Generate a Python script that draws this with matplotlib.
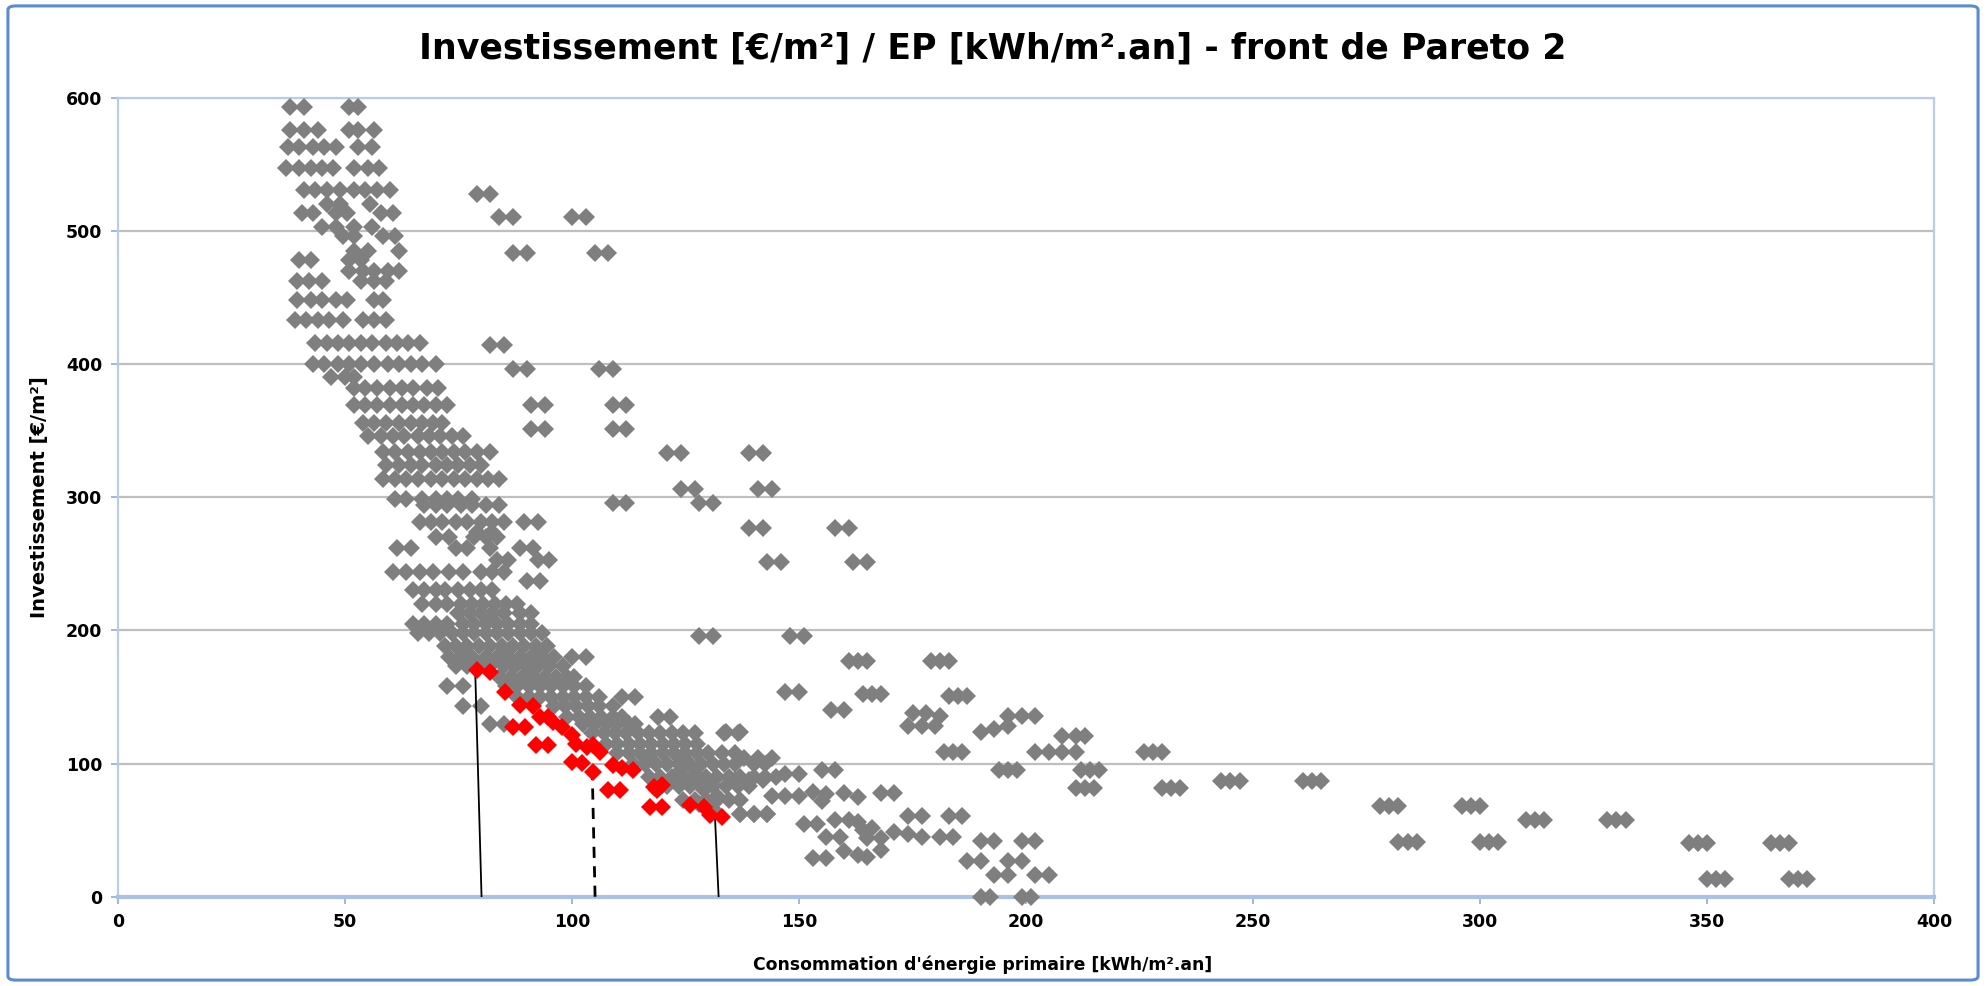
import matplotlib
matplotlib.use("Agg")
import matplotlib.pyplot as plt
from matplotlib.patches import FancyBboxPatch

# ---------------- data ----------------
# dense band of gray solutions, stored row by row: (investment, [consumptions])
gray_rows = [
    (593, [38, 41, 51, 53]),
    (576, [38, 41, 44, 51, 53, 56.5]),
    (563, [37.5, 40, 43, 45.5, 48, 53, 56]),
    (547, [37, 40, 42.5, 45, 47.5, 52, 55, 57.5]),
    (531, [41, 43.5, 46, 49, 52, 54.5, 57, 60]),
    (520, [46, 49, 55.5]),
    (513, [40.5, 43, 48, 50.5, 58, 60.5]),
    (503, [45, 48, 52, 56]),
    (496, [49.5, 52, 58.5, 61]),
    (485, [52, 55, 62]),
    (478, [40, 42.5, 51, 53.5]),
    (470, [51, 54, 56.5, 59.5, 62]),
    (462, [39.5, 42, 45, 53.5, 56.5, 59]),
    (448, [39.5, 42.5, 45, 48, 50.5, 56.5, 58.5]),
    (433, [39, 41.5, 44, 46.5, 49.5, 54, 56.5, 59]),
    (416, [43.5, 46, 48.5, 51, 53.5, 56, 59, 61.5, 64, 66.5]),
    (400, [43, 45.5, 48.5, 51, 53.5, 56.5, 59.5, 62, 64.5, 67, 70]),
    (390, [47, 50, 52]),
    (382, [52, 54.5, 57, 60, 62.5, 65, 68, 70.5]),
    (369, [52, 54.5, 57, 60, 62.5, 65, 67.5, 70, 72.5]),
    (356, [54, 56.5, 59, 62, 64.5, 67, 69.5, 71.5]),
    (346, [55, 58, 60.5, 63, 66, 68.5, 71, 73.5, 76]),
    (334, [58.5, 61, 64, 66.5, 69, 71.5, 74, 76.5, 79, 82]),
    (324, [59, 62, 64.5, 67, 70, 72.5, 75, 77.5, 80]),
    (314, [58.5, 61, 63.5, 66, 69, 71.5, 74, 76.5, 79, 81.5, 84]),
    (299, [61, 63.5, 67, 70, 72.5, 75, 78]),
    (294, [67.5, 70, 72.5, 75.5, 78, 81, 84]),
    (281, [66.5, 69, 71.5, 74.5, 77, 80, 82.5, 85, 89.5, 92.5]),
    (274, [79, 82.5]),
    (270, [70, 73, 78.5, 81, 83.5]),
    (262, [61.5, 64.5, 74.5, 77, 82, 88.5, 91.5]),
    (253, [83.5, 86, 92.5, 95]),
    (244, [60.5, 63.5, 66.5, 69.5, 73, 76, 80, 82.5, 85]),
    (237, [90, 93]),
    (230, [65, 67.5, 70, 72, 75, 77.5, 80, 82.5]),
    (220, [67, 70, 72.5, 75.5, 78, 80.5, 83, 85.5, 88]),
    (213, [75, 77.5, 80, 82.5, 85, 88.5, 91]),
    (205, [65, 67.5, 70, 72.5, 76, 78.5, 81, 83.5, 86, 88.5, 91]),
    (198, [66, 68.5, 71, 73.5, 76, 78.5, 81, 83.5, 86, 88.5, 91, 93.5]),
    (188, [72, 74.5, 77, 79.5, 82, 84.5, 87, 89.5, 92, 94.5]),
    (180, [73, 75.5, 78, 81, 83.5, 86, 88.5, 91, 93.5, 96, 100, 103]),
    (173, [74.5, 77, 79.5, 82, 85, 87.5, 90, 92.5, 95, 98]),
    (165, [84, 86.5, 89, 91.5, 94, 96.5, 99, 100.5]),
    (158, [72.5, 76, 85.5, 88, 90.5, 93, 95.5, 98, 100.5, 103]),
    (150, [88, 90.5, 93, 95.5, 98, 100.5, 103, 106, 111, 114]),
    (143, [76, 80, 96, 98.5, 101, 103.5, 106, 109]),
    (135, [99, 101.5, 104, 106.5, 109, 111, 119, 121.5]),
    (130, [82, 85, 102.5, 105, 107.5, 110, 112.5, 114]),
    (123, [104.5, 107, 109.5, 112, 114.5, 117, 119.5, 122, 124.5, 127, 133.5, 136.5]),
    (115, [107.5, 110, 112.5, 115, 117.5, 120, 122.5, 125, 127.5]),
    (108, [110, 112.5, 115, 117.5, 120, 122.5, 125, 127.5, 130, 133, 136]),
    (100, [113.5, 116, 118.5, 121, 123.5, 126, 128.5, 131, 133.5, 136, 140, 142.5]),
    (90, [117, 119.5, 122, 124.5, 127, 129.5, 132, 134.5, 137, 140, 142.5, 145]),
    (83, [121, 123.5, 126, 128.5, 131, 134, 136.5, 139]),
    (73, [124.5, 127, 129.5, 132, 134.5, 137]),
    (62, [137, 140, 143]),
]

# scattered gray solutions away from the band
gray_x_extra = [
    79, 82, 84, 87, 100, 103, 87, 90, 105, 108,
    82, 85, 87, 90, 106, 109, 91, 94, 109, 112, 91, 94, 109, 112, 109, 112,
    121, 124, 139, 142, 124, 127, 141, 144, 128, 131, 139, 142, 158, 161,
    143, 146, 162, 165, 128, 131, 148, 151,
    161, 163, 165, 179, 181, 183, 147, 150, 164, 166, 168, 183, 185, 187,
    157, 160, 175, 178, 181, 174, 177, 180, 182, 184, 186, 190, 193, 196,
    196, 199, 202, 194, 196, 198, 208, 211, 213, 202, 205, 208, 211,
    212, 214, 216, 211, 213, 215, 226, 228, 230, 230, 232, 234,
    243, 245, 247, 261, 263, 265, 278, 280, 282, 282, 284, 286,
    296, 298, 300, 300, 302, 304, 310, 312, 314, 328, 330, 332,
    346, 348, 350, 364, 366, 368, 350, 352, 354, 368, 370, 372,
    138, 141, 144, 134, 137, 147, 150, 155, 158, 136, 139, 142,
    144, 147, 150, 137, 140, 143, 153, 156, 155, 160, 163, 168, 171,
    151, 154, 158, 161, 163, 166, 164, 171, 174, 177, 174, 177, 183, 186,
    181, 184, 156, 159, 165, 168, 153, 156, 160, 163, 165, 168,
    190, 193, 199, 202, 187, 190, 196, 199, 193, 196, 202, 205,
    190, 192, 199, 201,
    124, 127, 130, 126, 129, 132, 128, 131,
]
gray_y_extra = [
    528, 528, 510, 510, 510, 510, 483, 483, 483, 483,
    414, 414, 396, 396, 396, 396, 369, 369, 369, 369, 351, 351, 351, 351, 296, 296,
    333, 333, 333, 333, 306, 306, 306, 306, 296, 296, 277, 277, 277, 277,
    251, 251, 251, 251, 196, 196, 196, 196,
    177, 177, 177, 177, 177, 177, 154, 154, 152, 152, 152, 151, 151, 151,
    140, 140, 138, 138, 136, 128, 128, 128, 109, 109, 109, 124, 126, 128,
    136, 136, 136, 95, 95, 95, 121, 121, 121, 109, 109, 109, 109,
    95, 95, 95, 82, 82, 82, 109, 109, 109, 82, 82, 82,
    87, 87, 87, 87, 87, 87, 68, 68, 68, 41, 41, 41,
    68, 68, 68, 41, 41, 41, 58, 58, 58, 58, 58, 58,
    40, 40, 40, 40, 40, 40, 13, 13, 13, 13, 13, 13,
    104, 104, 104, 124, 124, 92, 92, 95, 95, 88, 88, 88,
    76, 76, 76, 62, 62, 62, 79, 77, 72, 78, 75, 78, 78,
    55, 55, 58, 58, 56, 52, 50, 49, 47, 45, 61, 61, 61, 61,
    45, 45, 45, 45, 44, 44, 29, 29, 34, 31, 30, 35,
    42, 42, 42, 42, 27, 27, 27, 27, 16, 16, 16, 16,
    0, 0, 0, 0,
    95, 92, 88, 84, 80, 76, 70, 66,
]

# Pareto front (red)
red_x = [79, 82, 85.3, 88.6, 91.5, 93, 94.8, 95.9, 97.8, 87.1, 89.7, 92.2, 94.8,
         100, 101, 103.3, 104.7, 106.2, 100, 102.2, 104.7, 109.1, 111, 113.5,
         108, 110.6, 118, 118.7, 119.8, 117.2, 119.8, 126, 129, 130.4, 133]
red_y = [170, 169, 154, 144, 143, 135, 135, 131.5, 127.6, 127.7, 127.7, 114, 114,
         121.5, 115, 112.7, 114, 109, 101.4, 100.2, 94, 99, 96.4, 95.2,
         80, 80, 82.6, 80, 84, 67.6, 67.6, 69, 67.6, 61.4, 60]

# vertical reference lines ((x bottom, x top), (y bottom, y top), style)
ref_lines = [
    ((80.1, 78.7), (0, 170), "-"),
    ((105.1, 104.5), (0, 90), "--"),
    ((132.3, 131.5), (0, 60), "-"),
]

title = "Investissement [€/m²] / EP [kWh/m².an] - front de Pareto 2"
xlabel = "Consommation d'énergie primaire [kWh/m².an]"
ylabel = "Investissement [€/m²]"
xticks = [0, 50, 100, 150, 200, 250, 300, 350, 400]
yticks = [0, 100, 200, 300, 400, 500, 600]

# ---------------- plot ----------------
gray_x = [x for y, xs in gray_rows for x in xs] + gray_x_extra
gray_y = [y for y, xs in gray_rows for x in xs] + gray_y_extra

plt.rcParams['font.family'] = ['DejaVu Sans']
fig = plt.figure(figsize=(19.86, 9.86), dpi=100)
ax = fig.add_axes([0.0593, 0.0905, 0.9147, 0.8105])

ax.set_xlim(0, 400)
ax.set_ylim(0, 600)
ax.set_xticks(xticks)
ax.set_yticks(yticks)
ax.grid(axis='y', color='#BFBFBF', linewidth=1.6, zorder=0)
ax.set_axisbelow(True)

for s in ax.spines.values():
    s.set_color('#B9CDE5')
    s.set_linewidth(1.6)
ax.spines['bottom'].set_linewidth(3)
ax.spines['bottom'].set_color('#A9C1E2')

ax.tick_params(axis='both', colors='#8FAADC', length=5, width=1.2,
               labelcolor='black', labelsize=12.5)
for lbl in ax.get_xticklabels() + ax.get_yticklabels():
    lbl.set_fontweight('bold')
ax.tick_params(axis='y', pad=6)
ax.tick_params(axis='x', pad=7)

MS = 9
ax.plot(gray_x, gray_y, linestyle='none', marker='D', markersize=MS,
        color='#7F7F7F', markeredgewidth=0, zorder=3, clip_on=False)

for (xb, xt), (yb, yt), ls in ref_lines:
    if ls == '--':
        ax.plot([xb, xt], [yb, yt], color='black', linewidth=2.0,
                dashes=(4, 3), zorder=4)
    else:
        ax.plot([xb, xt], [yb, yt], color='black', linewidth=1.3, zorder=4)

ax.plot(red_x, red_y, linestyle='none', marker='D', markersize=MS,
        color='#FF0000', markeredgewidth=0, zorder=5)

ax.set_xlabel(xlabel, fontsize=12.4, fontweight='bold')
ax.xaxis.set_label_coords(0.476, -0.073)
ax.set_ylabel(ylabel, fontsize=14, fontweight='bold', labelpad=12)

fig.text(0.5, 0.951, title, ha='center', va='center', fontsize=25,
         fontweight='bold')

border = FancyBboxPatch((0.004, 0.006), 0.992, 0.988,
                        boxstyle="round,pad=0,rounding_size=0.004",
                        transform=fig.transFigure, fill=False,
                        edgecolor='#5B8BD0', linewidth=2.2, zorder=10)
fig.patches.append(border)

fig.savefig('out.png', dpi=100)
